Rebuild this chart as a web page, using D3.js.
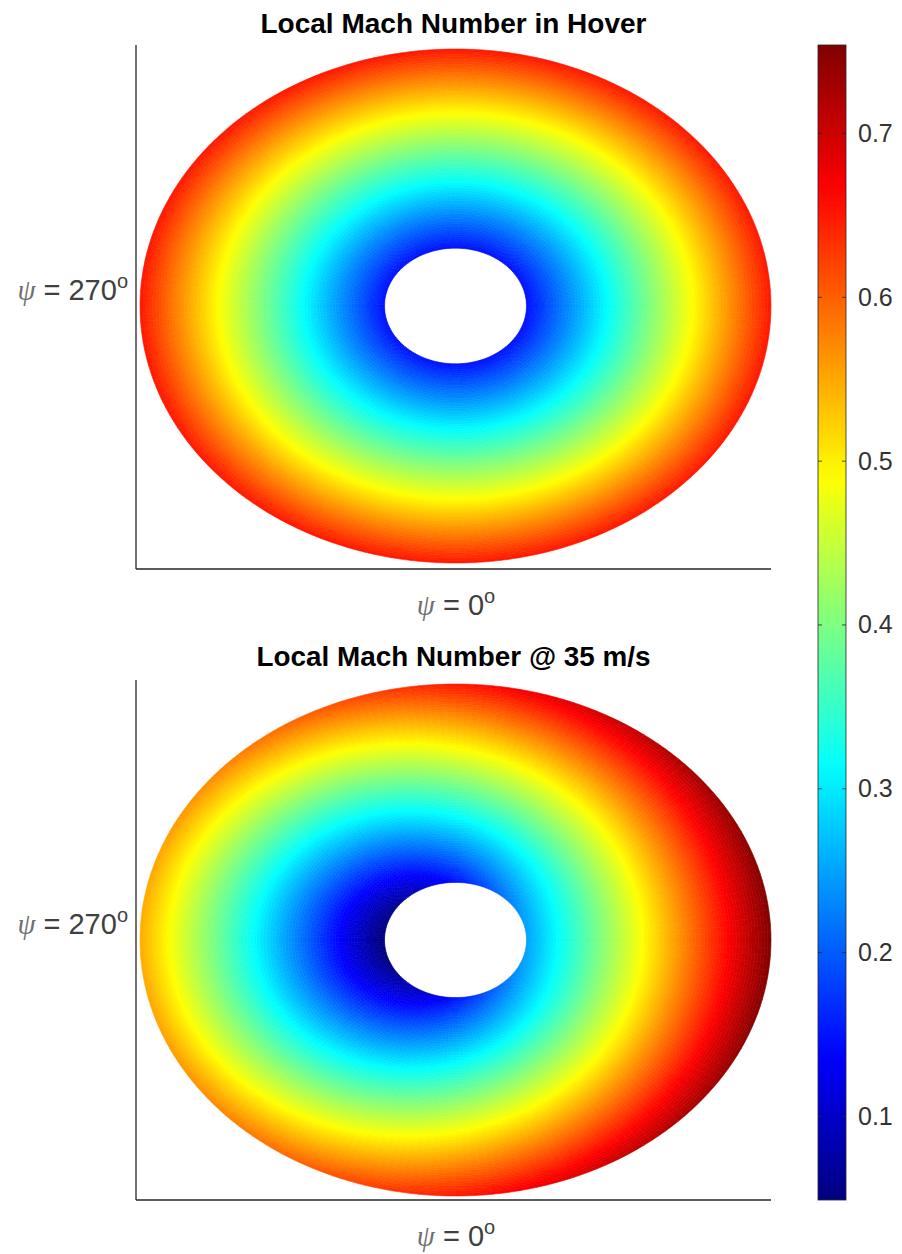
<!DOCTYPE html>
<html>
<head>
<meta charset="utf-8">
<script src="https://cdn.jsdelivr.net/npm/d3@7"></script>
<style>
  html, body { margin: 0; padding: 0; background: #fff; }
  svg { display: block; }
</style>
</head>
<body>
<svg id="chart" width="902" height="1254"></svg>
<script>
// ---------------- data ----------------
const titles = ["Local Mach Number in Hover", "Local Mach Number @ 35 m/s"];
const yLabelValue = "270";
const xLabelValue = "0";
// radial stations r/R (root cut-out to tip)
const radialStations = [0.225, 0.3, 0.4, 0.5, 0.6, 0.7, 0.8, 0.9, 1.0];
// hover local Mach number at those stations
const hoverMach = [0.146, 0.195, 0.260, 0.326, 0.391, 0.456, 0.521, 0.586, 0.651];
// azimuth stations (deg), psi = 0 downstream (bottom), 90 advancing (right)
const azimuthDeg = [0,10,20,30,40,50,60,70,80,90,100,110,120,130,140,150,160,170,
                    180,190,200,210,220,230,240,250,260,270,280,290,300,310,320,330,340,350];
// extra Mach number from the 35 m/s forward speed at each azimuth
const flightMachDelta = [0, 0.018, 0.035, 0.052, 0.066, 0.079, 0.089, 0.097, 0.101, 0.103,
                         0.101, 0.097, 0.089, 0.079, 0.066, 0.052, 0.035, 0.018,
                         0, -0.018, -0.035, -0.052, -0.066, -0.079, -0.089, -0.097, -0.101, -0.103,
                         -0.101, -0.097, -0.089, -0.079, -0.066, -0.052, -0.035, -0.018];
const colorLimits = [0.049, 0.754];
const colorbarTicks = [0.1, 0.2, 0.3, 0.4, 0.5, 0.6, 0.7];

// ---------------- layout ----------------
const svg = d3.select("#chart");
const panels = [
  { title: titles[0], titleLen: 386, top: 45, bottom: 569, cy: 306, ry: 257, titleY: 33, forward: false },
  { title: titles[1], titleLen: 394, top: 680, bottom: 1200, cy: 940, ry: 256, titleY: 666, forward: true }
];
const axLeft = 136, axRight = 771;
const discCx = 455.5, discRx = 315.5;

// jet colormap
function jet(t) {
  const c = v => Math.max(0, Math.min(1, v));
  const r = c(1.5 - Math.abs(4 * t - 3));
  const g = c(1.5 - Math.abs(4 * t - 2));
  const b = c(1.5 - Math.abs(4 * t - 1));
  return d3.rgb(r * 255, g * 255, b * 255).toString();
}
const color = d3.scaleSequential(jet).domain(colorLimits).clamp(true);

const nA = azimuthDeg.length;
const nR = radialStations.length;
const subA = 6, subR = 10;

panels.forEach(p => {
  const x = d3.scaleLinear().domain([-1, 1]).range([discCx - discRx, discCx + discRx]);
  const y = d3.scaleLinear().domain([-1, 1]).range([p.cy + p.ry, p.cy - p.ry]);
  const rad = d => d * Math.PI / 180;
  const pos = (r, psiDeg) => [x(r * Math.sin(rad(psiDeg))), y(-r * Math.cos(rad(psiDeg)))];

  const cells = [];
  for (let i = 0; i < nA; i++) {
    const i1 = (i + 1) % nA;
    const psi0 = azimuthDeg[i];
    const psi1 = i1 === 0 ? 360 : azimuthDeg[i1];
    const d0 = p.forward ? flightMachDelta[i] : 0;
    const d1 = p.forward ? flightMachDelta[i1] : 0;
    for (let j = 0; j < nR - 1; j++) {
      const r0 = radialStations[j], r1 = radialStations[j + 1];
      const h0 = hoverMach[j], h1 = hoverMach[j + 1];
      for (let a = 0; a < subA; a++) {
        for (let b = 0; b < subR; b++) {
          const u0 = a / subA, u1 = (a + 1) / subA, v0 = b / subR, v1 = (b + 1) / subR;
          const pa = u => psi0 + (psi1 - psi0) * u;
          const rr = v => r0 + (r1 - r0) * v;
          const pts = [[u0, v0], [u1, v0], [u1, v1], [u0, v1]].map(([u, v]) => pos(rr(v), pa(u)));
          const um = (u0 + u1) / 2, vm = (v0 + v1) / 2;
          const m = (h0 + (h1 - h0) * vm) + (d0 + (d1 - d0) * um);
          cells.push({ pts, m });
        }
      }
    }
  }
  const g = svg.append("g");
  g.selectAll("path").data(cells).join("path")
    .attr("d", d => "M" + d.pts.map(q => q[0].toFixed(2) + "," + q[1].toFixed(2)).join("L") + "Z")
    .attr("fill", d => color(d.m))
    .attr("stroke", d => color(d.m))
    .attr("stroke-width", 0.6);

  // axes lines (left and bottom)
  svg.append("line").attr("x1", axLeft).attr("x2", axLeft).attr("y1", p.top).attr("y2", p.bottom)
    .attr("stroke", "#262626").attr("stroke-width", 1.3);
  svg.append("line").attr("x1", axLeft).attr("x2", axRight).attr("y1", p.bottom).attr("y2", p.bottom)
    .attr("stroke", "#262626").attr("stroke-width", 1.3);

  // title
  svg.append("text").attr("x", (axLeft + axRight) / 2).attr("y", p.titleY)
    .attr("text-anchor", "middle").attr("font-family", "Liberation Sans, Arial, sans-serif")
    .attr("font-weight", "bold").attr("font-size", 27).attr("fill", "#000")
    .attr("textLength", p.titleLen).attr("lengthAdjust", "spacingAndGlyphs")
    .text(p.title);

  // y label
  const yl = svg.append("text").attr("x", 128).attr("y", p.cy - 6).attr("text-anchor", "end")
    .attr("font-family", "Liberation Sans, Arial, sans-serif").attr("font-size", 29).attr("fill", "#404040");
  yl.append("tspan").attr("font-family", "Liberation Serif, serif").attr("font-style", "italic").attr("fill", "#707070").text("\u03C8");
  yl.append("tspan").text(" =  " + yLabelValue);
  yl.append("tspan").attr("font-size", 20).attr("dy", -12).text("o");

  // x label
  const xl = svg.append("text").attr("x", 456).attr("y", p.bottom + 46).attr("text-anchor", "middle")
    .attr("font-family", "Liberation Sans, Arial, sans-serif").attr("font-size", 29).attr("fill", "#404040");
  xl.append("tspan").attr("font-family", "Liberation Serif, serif").attr("font-style", "italic").attr("fill", "#707070").text("\u03C8");
  xl.append("tspan").text(" =  " + xLabelValue);
  xl.append("tspan").attr("font-size", 20).attr("dy", -12).text("o");
});

// ---------------- colorbar ----------------
const cbX = 818, cbW = 28, cbTop = 45, cbBottom = 1200;
const cbScale = d3.scaleLinear().domain(colorLimits).range([cbBottom, cbTop]);
const defs = svg.append("defs");
const grad = defs.append("linearGradient").attr("id", "jetgrad")
  .attr("x1", 0).attr("y1", 1).attr("x2", 0).attr("y2", 0);
d3.range(0, 1.0001, 0.02).forEach(t => {
  grad.append("stop").attr("offset", t).attr("stop-color", jet(t));
});
svg.append("rect").attr("x", cbX).attr("y", cbTop).attr("width", cbW).attr("height", cbBottom - cbTop)
  .attr("fill", "url(#jetgrad)").attr("stroke", "#262626").attr("stroke-width", 0.8);
const cbAxis = d3.axisRight(cbScale).tickValues(colorbarTicks).tickFormat(d3.format(".1f")).tickSize(0).tickPadding(12);
const cbG = svg.append("g").attr("transform", `translate(${cbX + cbW},0)`).call(cbAxis);
cbG.select(".domain").remove();
cbG.selectAll("text").attr("font-family", "Liberation Sans, Arial, sans-serif").attr("font-size", 25).attr("fill", "#333");
// small inner ticks on both sides
colorbarTicks.forEach(v => {
  svg.append("line").attr("x1", cbX).attr("x2", cbX + 4).attr("y1", cbScale(v)).attr("y2", cbScale(v)).attr("stroke", "#262626").attr("stroke-width", 0.8);
  svg.append("line").attr("x1", cbX + cbW - 4).attr("x2", cbX + cbW).attr("y1", cbScale(v)).attr("y2", cbScale(v)).attr("stroke", "#262626").attr("stroke-width", 0.8);
});
</script>
</body>
</html>
